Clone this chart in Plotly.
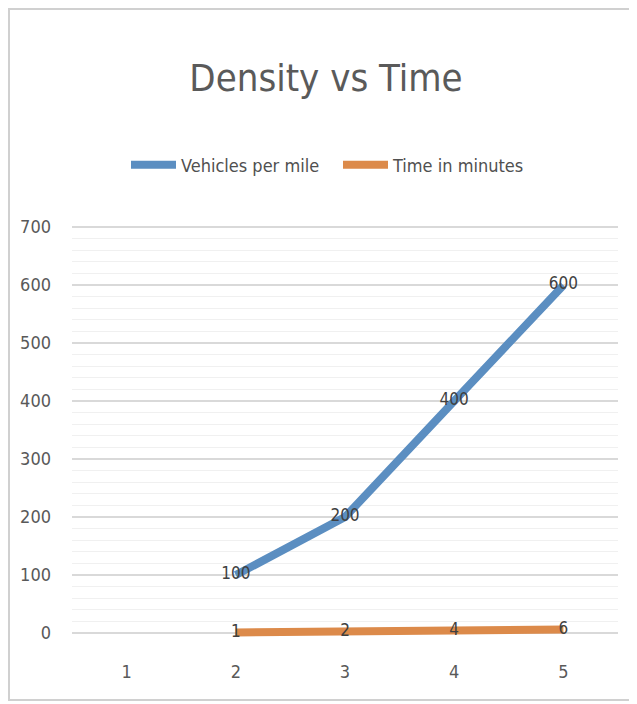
import plotly.graph_objects as go

categories = ["1", "2", "3", "4", "5"]
vehicles_per_mile = [None, 100, 200, 400, 600]
time_in_minutes = [None, 1, 2, 4, 6]
y_ticks = [0, 100, 200, 300, 400, 500, 600, 700]

FONT = "DejaVu Sans Condensed, Liberation Sans Narrow, sans-serif"

fig = go.Figure()
fig.add_trace(go.Scatter(
    x=categories, y=vehicles_per_mile, name="Vehicles per mile",
    mode="lines+text", text=[str(v) if v is not None else "" for v in vehicles_per_mile],
    textposition="middle center", cliponaxis=False,
    textfont=dict(family=FONT, size=17, color="#404040"),
    line=dict(color="#5b8ec1", width=8), connectgaps=False,
))
fig.add_trace(go.Scatter(
    x=categories, y=time_in_minutes, name="Time in minutes",
    mode="lines+text", text=[str(v) if v is not None else "" for v in time_in_minutes],
    textposition="middle center", cliponaxis=False,
    textfont=dict(family=FONT, size=17, color="#404040"),
    line=dict(color="#dc8a4a", width=8), connectgaps=False,
))

OFF = 8  # page body margin
W, H = 637 - OFF, 704 - OFF
L, R, T, B = 72 - OFF, 19, 226 - OFF, 64
pw, ph = W - L - R, H - T - B

def px2paper(px, py):
    # px, py are page pixel coordinates from the reference
    return (px - OFF - L) / pw, (H - B - (py - OFF)) / ph

x0, y0 = px2paper(9, 700)
x1, y1 = px2paper(630, 9)
fig.add_shape(type="rect", xref="paper", yref="paper", x0=x0, y0=y0, x1=x1, y1=y1,
              line=dict(color="#d0d0d0", width=2), layer="below")

lx, ly = px2paper(126, 165)

fig.update_layout(
    width=W, height=H,
    margin=dict(l=L, r=R, t=T, b=B),
    paper_bgcolor="white", plot_bgcolor="white",
    title=dict(text="Density vs Time", x=(326 - OFF) / W, xanchor="center",
               y=1 - (78 - OFF) / H, yanchor="middle", yref="container",
               font=dict(family=FONT, size=38, color="#5a5a5a")),
    legend=dict(orientation="h", x=lx, y=ly, xanchor="left", yanchor="middle",
                font=dict(family=FONT, size=18, color="#505050"),
                itemwidth=45, entrywidth=152, tracegroupgap=0, bgcolor="rgba(0,0,0,0)"),
    showlegend=True,
    xaxis=dict(type="category", range=[-0.5, 4.5], showgrid=False, zeroline=False,
               showline=False, ticks="", tickfont=dict(family=FONT, size=18, color="#595959"),
               ticklabelstandoff=19),
    yaxis=dict(range=[-12, 702], tickvals=y_ticks, showgrid=True, gridcolor="#d9d9d9",
               gridwidth=1.5, zeroline=False, showline=False, ticks="",
               tickfont=dict(family=FONT, size=18, color="#595959"),
               ticklabelstandoff=20,
               minor=dict(tick0=0, dtick=20, showgrid=True, gridcolor="#f0f0f0", gridwidth=1)),
)

fig.write_html("out.html")
